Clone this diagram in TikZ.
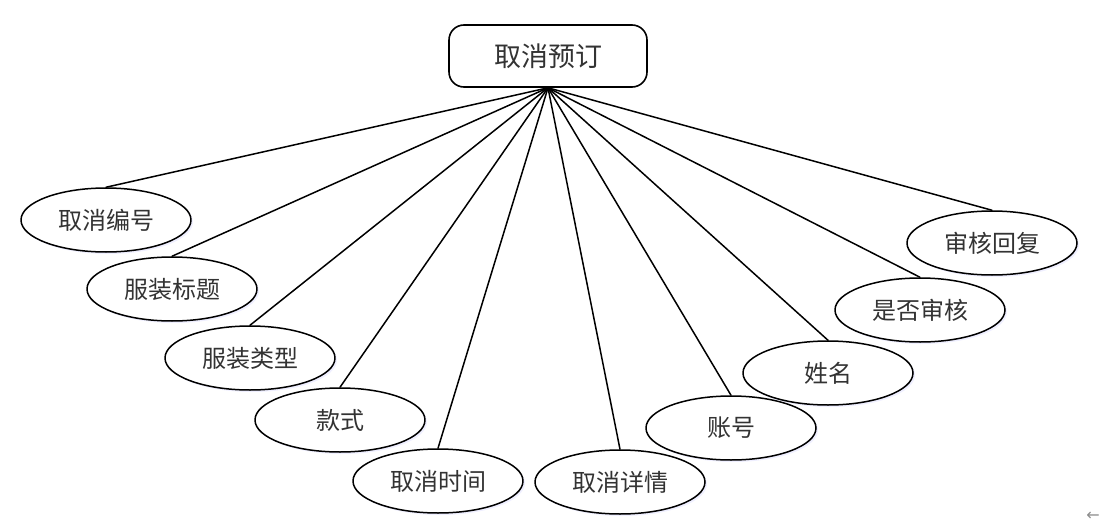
\documentclass[tikz,border=0pt]{standalone}
\usepackage{fontspec}
\newfontfamily\cjk{Noto Sans CJK SC}
\newfontfamily\symfont{DejaVu Sans}
\usetikzlibrary{shapes.geometric,shadows}
\begin{document}
\begin{tikzpicture}[x=1pt,y=-1pt,line join=round,line cap=round,
    attr/.style={ellipse,draw,line width=1.5pt,minimum width=170pt,minimum height=64pt,inner sep=0pt,fill=white,
      drop shadow={fill=blue!12!white,shadow xshift=2pt,shadow yshift=-2pt},
      font=\cjk\fontsize{24}{24}\selectfont,text=black!80},
    ent/.style={rounded corners=15pt,draw,line width=1.6pt,minimum width=198pt,minimum height=62pt,inner sep=0pt,fill=white,
      font=\cjk\fontsize{27}{27}\selectfont,text=black!80}]
    \useasboundingbox (0,0) rectangle (1101,527);
    \node[ent] (qxyd) at (548,56) {取消预订};
    \node[attr] (qxbh) at (106,220) {取消编号};
    \node[attr] (fzbt) at (172,289) {服装标题};
    \node[attr] (fzlx) at (250,358) {服装类型};
    \node[attr] (ks) at (340,420) {款式};
    \node[attr] (qxsj) at (438,481) {取消时间};
    \node[attr] (qxxq) at (620,482) {取消详情};
    \node[attr] (zh) at (731,428) {账号};
    \node[attr] (xm) at (828,373) {姓名};
    \node[attr] (sfsh) at (920,310) {是否审核};
    \node[attr] (shhf) at (992,243) {审核回复};
    \foreach \a in {qxbh,fzbt,fzlx,ks,qxsj,qxxq,zh,xm,sfsh,shhf}\draw[line width=1.5pt] (qxyd.south)--(\a.north);
    \node[text=black!45,font=\symfont\fontsize{16}{16}\selectfont] (back) at (1093,516) {←};
\end{tikzpicture}
\end{document}
